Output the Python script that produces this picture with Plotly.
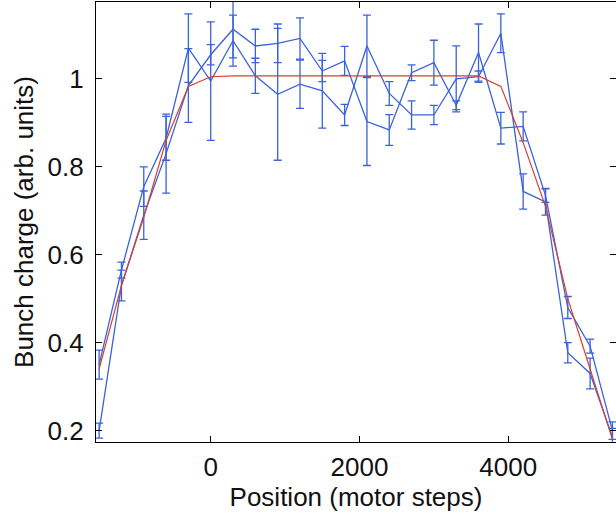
import plotly.graph_objects as go

positions = [-1500, -1200, -900, -600, -300, 0, 300, 600, 900, 1200, 1500, 1800,
             2100, 2400, 2700, 3000, 3300, 3600, 3900, 4200, 4500, 4800, 5100, 5400]

charge_run1 = [0.35, 0.565, 0.755, 0.865, 1.07, 0.995, 1.087, 1.007, 0.965, 0.988, 0.973, 0.918,
               1.075, 0.967, 0.918, 0.918, 1.0, 1.005, 1.104, 0.744, 0.72, 0.377, 0.33, 0.185]
error_run1 = [0.033, 0.018, 0.045, 0.05, 0.078, 0.135, 0.058, 0.04, 0.15, 0.055, 0.085, 0.024,
              0.07, 0.027, 0.032, 0.022, 0.075, 0.013, 0.044, 0.04, 0.03, 0.023, 0.035, 0.02]

charge_run2 = [0.20, 0.53, 0.69, 0.83, 0.985, 1.055, 1.113, 1.075, 1.081, 1.092, 1.018, 1.041,
               0.903, 0.884, 1.014, 1.037, 0.94, 1.06, 0.888, 0.892, 0.735, 0.48, 0.392, 0.20]
error_run2 = [0.017, 0.035, 0.055, 0.09, 0.084, 0.023, 0.065, 0.038, 0.044, 0.047, 0.024, 0.033,
              0.1, 0.035, 0.018, 0.051, 0.01, 0.065, 0.036, 0.033, 0.016, 0.025, 0.016, 0.02]

model_charge = [0.34, 0.53, 0.685, 0.86, 0.983, 1.005, 1.007, 1.007, 1.007, 1.007, 1.007, 1.007,
                1.007, 1.007, 1.007, 1.007, 1.007, 1.007, 0.983, 0.855, 0.71, 0.50, 0.34, 0.18]

x_ticks = [0, 2000, 4000]
x_tick_labels = ["0", "2000", "4000"]
y_ticks = [0.2, 0.4, 0.6, 0.8, 1.0]
y_tick_labels = ["0.2", "0.4", "0.6", "0.8", "1"]

BLUE = "#3a62dc"
RED = "#d6402f"
FONT = "Liberation Sans"
FSIZE = 26

fig = go.Figure()
for vals, errs in [(charge_run1, error_run1), (charge_run2, error_run2)]:
    fig.add_trace(go.Scatter(
        x=positions, y=vals, mode="lines",
        line=dict(color=BLUE, width=1.3),
        error_y=dict(type="data", array=errs, visible=True,
                     color=BLUE, thickness=1.3, width=4),
        showlegend=False,
    ))
fig.add_trace(go.Scatter(
    x=positions, y=model_charge, mode="lines",
    line=dict(color=RED, width=1.2), showlegend=False,
))

axis_common = dict(
    showline=True, linecolor="black", linewidth=1.3,
    ticks="inside", ticklen=6, tickcolor="black", tickwidth=1,
    mirror="ticks", showgrid=False, zeroline=False,
    tickfont=dict(family=FONT, size=FSIZE, color="#111"),
)

fig.update_layout(
    width=616, height=521,
    margin=dict(l=96, r=0, t=2, b=79),
    paper_bgcolor="white", plot_bgcolor="white",
    xaxis=dict(range=[-1542, 5448], tickvals=x_ticks, ticktext=x_tick_labels,
               title=dict(text="Position (motor steps)", standoff=0,
                          font=dict(family=FONT, size=FSIZE, color="#111")),
               ticklabelstandoff=2, **axis_common),
    yaxis=dict(range=[0.174, 1.175], tickvals=y_ticks, ticktext=y_tick_labels,
               title=dict(text="Bunch charge (arb. units)", standoff=6,
                          font=dict(family=FONT, size=FSIZE, color="#111")),
               ticklabelstandoff=6, **axis_common),
)

fig.write_html("out.html", config={"displayModeBar": False},
               post_script="document.body.style.margin='0';")
